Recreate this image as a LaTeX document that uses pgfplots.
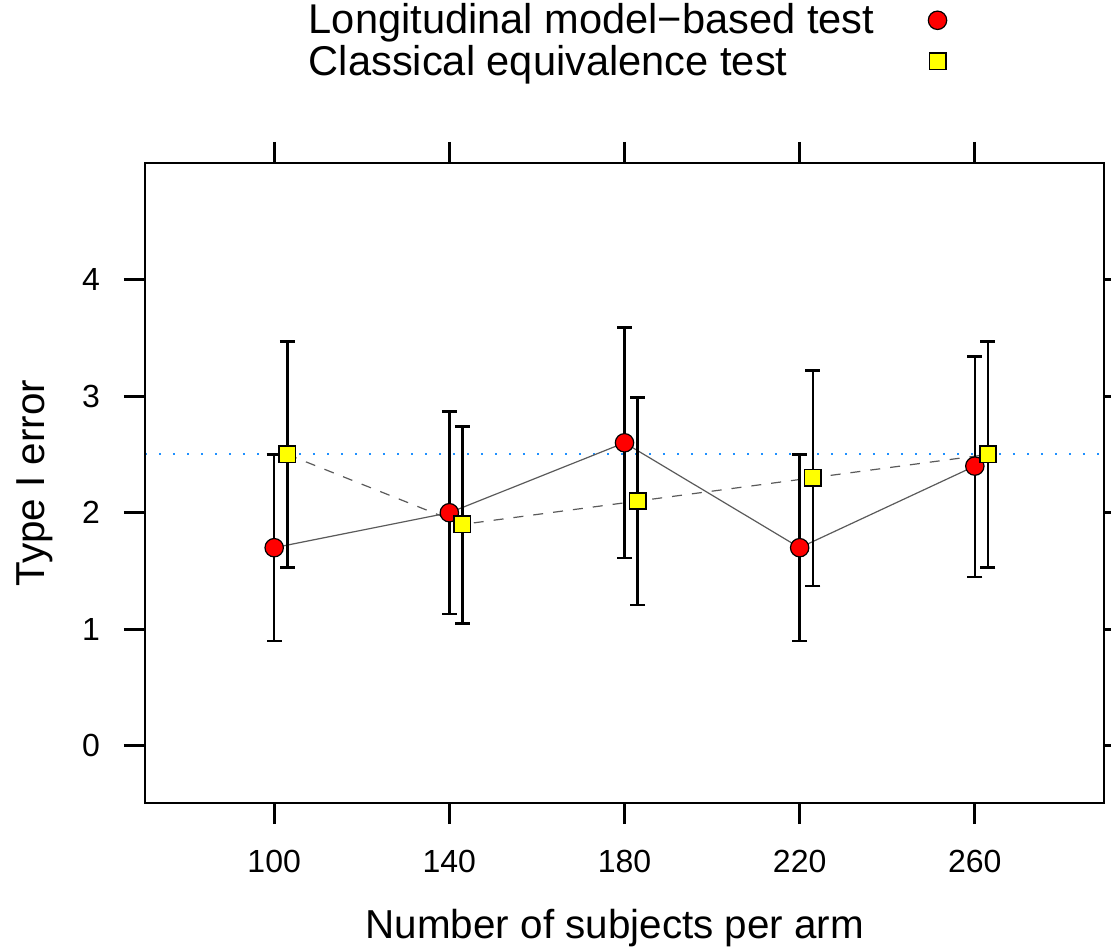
\documentclass[border=0pt]{standalone}
\usepackage{fontspec}
\setmainfont{Liberation Sans}
\usepackage{pgfplots}
\usepackage{pgfplotstable}
\pgfplotsset{compat=1.18}

\definecolor{refblue}{RGB}{30,144,255}
\definecolor{linegray}{RGB}{90,90,90}
\definecolor{ptred}{RGB}{255,0,0}
\definecolor{ptyellow}{RGB}{255,255,0}

% x, estimate, upper and lower half-widths (type I error in %)
\pgfplotstableread{
x   y    ep    em
100 1.7  0.80  0.80
140 2.0  0.87  0.87
180 2.6  0.99  0.99
220 1.7  0.80  0.80
260 2.4  0.94  0.95
}\longit
\pgfplotstableread{
x   y    ep    em
103 2.5  0.97  0.97
143 1.9  0.84  0.85
183 2.1  0.89  0.89
223 2.3  0.92  0.93
263 2.5  0.97  0.97
}\classic

\begin{document}
\begin{tikzpicture}
\useasboundingbox (-72.5pt,-74pt) rectangle (483pt,401.5pt);
\begin{axis}[
    scale only axis,
    width=479.5pt,
    height=320pt,
    xmin=70.5, xmax=289.5,
    ymin=-0.49, ymax=5.0,
    axis line style={line width=1.4pt},
    xtick={100,140,180,220,260},
    ytick={0,1,2,3,4},
    tick align=outside,
    xtick pos=both,
    ytick pos=both,
    xticklabel pos=bottom,
    yticklabel pos=left,
    major tick length=10.5pt,
    every tick/.style={black, line width=1.4pt},
    tick label style={font=\fontsize{16}{19}\selectfont},
    xticklabel style={yshift=-9.5pt},
    yticklabel style={xshift=-8.5pt},
    /pgf/number format/assume math mode=true,
    xlabel={Number of subjects per arm},
    ylabel={Type I error},
    every axis x label/.style={at={(axis description cs:0.49,-0.195)}, anchor=center,
        font=\fontsize{20.2}{24}\selectfont},
    every axis y label/.style={at={(axis description cs:-0.115,0.5)}, rotate=90, anchor=center,
        font=\fontsize{20.2}{24}\selectfont},
    legend plot pos=right,
    legend cell align=left,
    legend style={at={(axis description cs:0.16,1.262)}, anchor=north west,
        draw=none, fill=none, font=\fontsize{20.8}{24}\selectfont,
        row sep=0pt, column sep=25pt},
    clip=false,
    after end axis/.code={
        \draw[black, line width=1.4pt] (rel axis cs:0,0) rectangle (rel axis cs:1,1);
    },
]
\addplot[refblue, line width=1pt, dash pattern=on 1pt off 6pt, forget plot]
    coordinates {(70.5,2.5) (289.5,2.5)};
\addplot[linegray, line width=0.6pt, forget plot] table[x=x,y=y] {\longit};
\addplot[linegray, line width=0.6pt, dash pattern=on 5pt off 5pt, forget plot] table[x=x,y=y] {\classic};
\addplot[only marks, mark=*, mark size=4.6pt,
    mark options={fill=ptred, draw=black, line width=0.6pt},
    error bars/.cd, y dir=both, y explicit,
    error bar style={black, line width=1.3pt},
    error mark options={black, line width=1.3pt, mark size=3.75pt, rotate=90}]
    table[x=x, y=y, y error plus=ep, y error minus=em] {\longit};
\addlegendentry{Longitudinal model−based test}
\addplot[only marks, mark=square*, mark size=4.1pt,
    mark options={fill=ptyellow, draw=black, line width=0.8pt},
    error bars/.cd, y dir=both, y explicit,
    error bar style={black, line width=1.3pt},
    error mark options={black, line width=1.3pt, mark size=3.75pt, rotate=90}]
    table[x=x, y=y, y error plus=ep, y error minus=em] {\classic};
\addlegendentry{Classical equivalence test}
\end{axis}
\end{tikzpicture}
\end{document}
